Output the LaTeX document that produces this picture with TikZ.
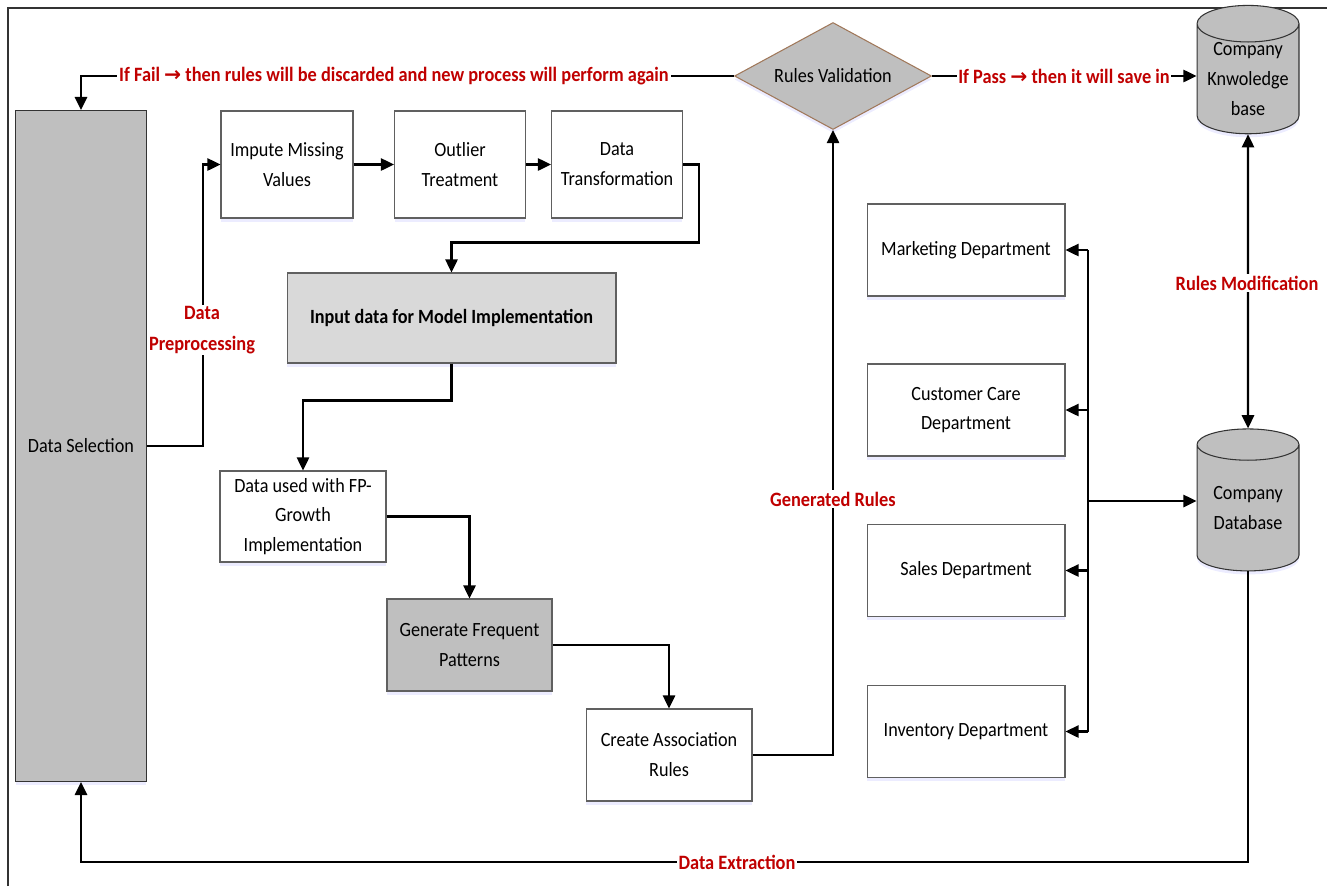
\documentclass[tikz,border=0pt]{standalone}
\usepackage{fontspec}
\setmainfont[FakeStretch=0.9]{Carlito}
\newfontfamily\arrowfont{DejaVu Sans}
\usepackage{tikz}
\usetikzlibrary{shapes,shapes.geometric,calc}
\usetikzlibrary{arrows.meta,shadows,positioning}
\usepackage{xcolor}
\definecolor{boxgray}{HTML}{BFBFBF}
\definecolor{inpgray}{HTML}{D9D9D9}
\definecolor{labelred}{HTML}{C00000}
\definecolor{diaedge}{HTML}{A0785A}
\tikzset{
  glow/.style={drop shadow={shadow xshift=0pt, shadow yshift=-2pt, fill=blue!15, opacity=0.5}},
  box/.style={draw=gray!75!black, line width=0.6pt, fill=white, align=center, inner sep=2pt, glow},
  deptbox/.style={box, minimum width=3.96cm, minimum height=1.84cm},
  dbshape/.style={cylinder, shape border rotate=90, aspect=0.45, draw=gray!40!black, line width=0.6pt,
    fill=boxgray, align=center, inner sep=0pt, glow},
  redlbl/.style={font=\fontsize{11.6}{17.5}\selectfont\bfseries, text=labelred, fill=white, inner sep=1pt, align=center},
  flow/.style={-{Triangle[length=7.5pt,width=7pt]}, line width=1.2pt},
  line/.style={line width=1.2pt}
}
\newcommand{\rarr}{{\arrowfont\bfseries →}}

\begin{document}
\begin{tikzpicture}[x=0.02cm, y=-0.02cm, font=\fontsize{11.5}{17}\selectfont]
\useasboundingbox (0,0) rectangle (1327,886);
\draw[line width=0.8pt, gray!40!black] (8,886) -- (8,8) -- (1327,8);

% left column and preprocessing
\node[box, fill=boxgray, draw=gray!40!black, minimum width=2.62cm, minimum height=13.42cm] (sel) at (81,446) {Data Selection};
\node[box, minimum width=2.64cm, minimum height=2.14cm] (imp) at (287,164.5) {Impute Missing\\Values};
\node[box, minimum width=2.62cm, minimum height=2.14cm] (out) at (460,164.5) {Outlier\\Treatment};
\node[box, minimum width=2.62cm, minimum height=2.14cm] (trans) at (617,164.5) {Data\\Transformation};
\node[box, fill=inpgray, font=\fontsize{11.5}{17}\selectfont\bfseries, minimum width=6.58cm, minimum height=1.8cm] (inp) at (451.5,318) {Input data for Model Implementation};

% model
\node[box, minimum width=3.32cm, minimum height=1.82cm] (fp) at (303,516.5) {Data used with FP-\\Growth\\Implementation};
\node[box, fill=boxgray, minimum width=3.3cm, minimum height=1.84cm] (gen) at (469.5,645) {Generate Frequent\\Patterns};
\node[box, minimum width=3.32cm, minimum height=1.84cm] (car) at (669,755) {Create Association\\Rules};
\node[diamond, draw=diaedge, line width=0.6pt, fill=boxgray, inner sep=0pt, aspect=1.8, minimum width=3.94cm, minimum height=2.14cm, glow] (rv) at (833,76) {Rules Validation};

% company side
\node[dbshape, minimum width=2.04cm, minimum height=2.2cm] (kb) at (1248,79) {Company\\Knwoledge\\base};
\node[dbshape, minimum width=2.04cm, minimum height=2.84cm] (db) at (1248,508) {Company\\Database};
\node[deptbox] (mkt) at (966,250) {Marketing Department};
\node[deptbox] (cc) at (966,410) {Customer Care\\Department};
\node[deptbox] (sal) at (966,570.5) {Sales Department};
\node[deptbox] (inv) at (966,731.5) {Inventory Department};
\coordinate (bus) at (1088,0);

% connectors
\draw[flow] (sel.east) -- ++(56,0) |- (imp.west);
\draw[flow] (imp) -- (out);
\draw[flow] (out) -- (trans);
\draw[flow] (trans.east) -- ++(16,0) -- ++(0,78) -| (inp.north);
\draw[flow] (inp.south) -- ++(0,37) -| (fp.north);
\draw[flow] (fp.east) -| (gen.north);
\draw[flow] (gen.east) -| (car.north);
\draw[flow] (car.east) -| (rv.south);
\draw[flow] (rv.west) -- (rv.west -| sel.north) -- (sel.north);
\draw[flow] (rv.east) -- (rv.east -| kb.west);
\draw[flow, {Triangle[length=7.5pt,width=7pt]}-{Triangle[length=7.5pt,width=7pt]}] (kb) -- (db);
\draw[line] (mkt.east -| bus) -- (inv.east -| bus);
\draw[flow] (mkt.east -| bus) -- (mkt.east);
\draw[flow] (cc.east -| bus) -- (cc.east);
\draw[flow] (sal.east -| bus) -- (sal.east);
\draw[flow] (inv.east -| bus) -- (inv.east);
\draw[flow] (bus |- 0,501) -- (db.west |- 0,501);
\draw[flow] (db.south) -- (db.south |- 0,862) -| (sel.south);

% labels
\node[redlbl] (pre) at (202,330) {Data\\Preprocessing};
\node[redlbl] (fail) at (394,76) {If Fail \rarr{} then rules will be discarded and new process will perform again};
\node[redlbl] (pass) at (1064,76) {If Pass \rarr{} then it will save in};
\node[redlbl] (gr) at (833,499) {Generated Rules};
\node[redlbl] (rm) at (1247,283) {Rules Modification};
\node[redlbl] (ext) at (737,862) {Data Extraction};
\end{tikzpicture}
\end{document}
